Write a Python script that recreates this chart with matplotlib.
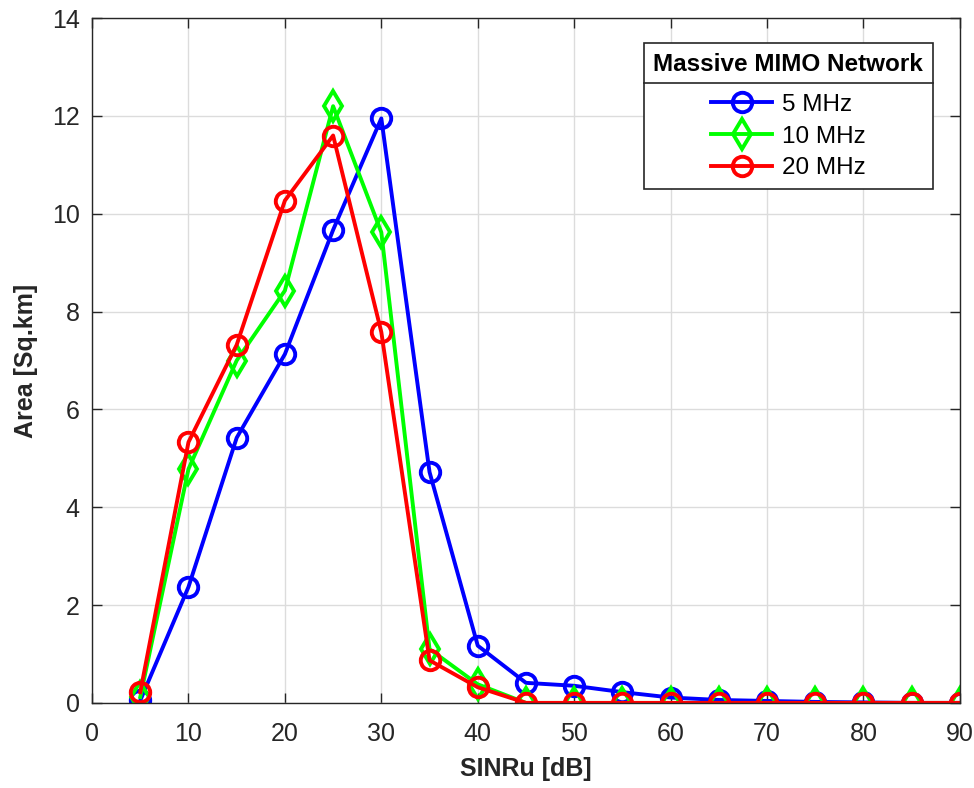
import numpy as np
import matplotlib.pyplot as plt
from matplotlib.lines import Line2D

plt.rcParams['font.family'] = ['Liberation Sans', 'DejaVu Sans']

# Data
sinr = [5, 10, 15, 20, 25, 30, 35, 40, 45, 50, 55, 60, 65, 70, 75, 80, 85, 90]
area_5mhz = [0.05, 2.37, 5.42, 7.13, 9.67, 11.95, 4.72, 1.17, 0.41, 0.35, 0.22,
             0.11, 0.06, 0.04, 0.02, 0.01, 0.0, 0.0]
area_10mhz = [0.12, 4.78, 7.0, 8.43, 12.2, 9.62, 1.1, 0.38, 0.0, 0.0, 0.0,
              0.0, 0.0, 0.0, 0.0, 0.0, 0.0, 0.0]
area_20mhz = [0.22, 5.33, 7.32, 10.27, 11.6, 7.58, 0.87, 0.32, 0.0, 0.0, 0.0,
              0.0, 0.0, 0.0, 0.0, 0.0, 0.0, 0.0]
labels = ['5 MHz', '10 MHz', '20 MHz']

fig = plt.figure(figsize=(9.74, 7.88), dpi=100)
ax = fig.add_axes([0.0945, 0.108, 0.891, 0.869])

dark = '#262626'
ax.plot(sinr, area_5mhz, color='#0000ff', lw=2.8, marker='o', ms=14,
        mfc='none', mew=2.8, label=labels[0])
ax.plot(sinr, area_10mhz, color='#00ff00', lw=2.8, marker='d', ms=15,
        mfc='none', mew=2.8, label=labels[1])
ax.plot(sinr, area_20mhz, color='#ff0000', lw=2.8, marker='o', ms=14,
        mfc='none', mew=2.8, label=labels[2])

ax.set_xlim(0, 90)
ax.set_ylim(0, 14)
ax.set_xticks(np.arange(0, 91, 10))
ax.set_yticks(np.arange(0, 15, 2))
ax.grid(True, color='#dcdcdc', lw=1)
ax.set_axisbelow(True)
ax.tick_params(labelsize=18, colors=dark, direction='in', length=7, width=1,
               top=True, right=True)
ax.tick_params(axis='x', pad=14)
ax.tick_params(axis='y', pad=9)
for s in ax.spines.values():
    s.set_color(dark)
    s.set_linewidth(1)

ax.set_xlabel('SINRu [dB]', fontsize=18, fontweight='bold', color=dark, labelpad=8)
ax.set_ylabel('Area [Sq.km]', fontsize=18, fontweight='bold', color=dark, labelpad=10)

leg = ax.legend(loc='upper right', bbox_to_anchor=(933 / 974, 1 - 43 / 788),
                bbox_transform=fig.transFigure, fontsize=17.5, title='Massive MIMO Network',
                title_fontproperties={'size': 17.5, 'weight': 'bold'},
                frameon=True, fancybox=False, edgecolor=dark, framealpha=1,
                handlelength=2.5, borderpad=0.4, labelspacing=0.4, handletextpad=0.4,
                borderaxespad=0, alignment='center')
leg.get_frame().set_linewidth(1.2)
leg.get_title().set_color('black')
leg._legend_box.sep = 13

# separator line under the legend title
fig.canvas.draw()
bb = leg.get_window_extent()
tb = leg.get_title().get_window_extent()
ysep = tb.y0 - 7
fig.add_artist(Line2D([bb.x0, bb.x1], [ysep, ysep], transform=None,
                      color=dark, lw=1.2))

fig.savefig('out.png', dpi=100)
